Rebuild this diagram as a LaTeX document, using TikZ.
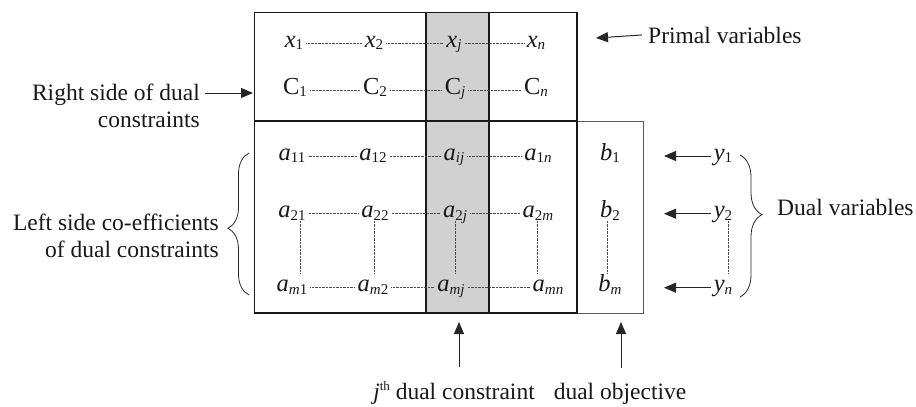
\documentclass[tikz,border=0pt]{standalone}
\usepackage{fontspec}
\setmainfont{Liberation Serif}
\usetikzlibrary{arrows.meta,decorations.pathreplacing,calc}
\newcommand\subs[1]{\raisebox{-2.5pt}{\fontsize{15}{15}\selectfont #1}}
\newcommand\vr[2]{\textit{#1}\subs{#2}}
\begin{document}
\begin{tikzpicture}[x=1pt,y=-1pt,
  lab/.style={font=\fontsize{23.5}{27}\selectfont, text=black!90, inner sep=0pt},
  entry/.style={font=\fontsize{24.5}{27}\selectfont, text=black!90, anchor=base, inner sep=3pt, text height=14pt, text depth=6pt},
  dotline/.style={draw=black!70, line width=0.6pt, dash pattern=on 0.7pt off 0.7pt},
  boxline/.style={draw=black!90, line width=1.3pt},
  thinbox/.style={draw=black!65, line width=0.9pt},
  arr/.style={draw=black!85, line width=1pt, -{Triangle[length=12pt,width=10pt]}},
  bracestyle/.style={draw=black!85, line width=0.8pt, decorate}]
\useasboundingbox (0,0) rectangle (916,407);

% shaded column and boxes
\fill[black!18] (426,12.7) rectangle (489,313);
\draw[thinbox] (577,121) -- (643,121) -- (643,313) -- (577,313);
\draw[boxline] (254.7,12.7) rectangle (577,121);
\draw[boxline] (254.7,121) rectangle (577,313);
\draw[boxline] (426,12.7) -- (426,313);
\draw[boxline] (489,12.7) -- (489,313);

% row x
\node[entry] (x1) at (294,47) {\vr{x}{1}};
\node[entry] (x2) at (374,47) {\vr{x}{2}};
\node[entry] (xj) at (454,47) {\vr{x}{\textit{j}}};
\node[entry] (xn) at (536,47) {\vr{x}{\textit{n}}};
% row C
\node[entry] (c1) at (295,94) {C\subs{1}};
\node[entry] (c2) at (375,94) {C\subs{2}};
\node[entry] (cj) at (455,94) {C\subs{\textit{j}}};
\node[entry] (cn) at (536,94) {C\subs{\textit{n}}};
% row a1
\node[entry] (a11) at (292,160) {\vr{a}{11}};
\node[entry] (a12) at (373,160) {\vr{a}{12}};
\node[entry] (a1j) at (454,160) {\vr{a}{\textit{ij}}};
\node[entry] (a1n) at (538,160) {\vr{a}{1\textit{n}}};
\node[entry] (b1) at (610,160) {\vr{b}{1}};
% row a2
\node[entry] (a21) at (292,217.7) {\vr{a}{21}};
\node[entry] (a22) at (375,217.7) {\vr{a}{22}};
\node[entry] (a2j) at (455,217.7) {\vr{a}{2\textit{j}}};
\node[entry] (a2m) at (538,217.7) {\vr{a}{2\textit{m}}};
\node[entry] (b2) at (610,217.7) {\vr{b}{2}};
% row am
\node[entry] (am1) at (292,291.7) {\vr{a}{\textit{m}1}};
\node[entry] (am2) at (373,291.7) {\vr{a}{\textit{m}2}};
\node[entry] (amj) at (451,291.7) {\vr{a}{\textit{mj}}};
\node[entry] (amn) at (548,291.7) {\vr{a}{\textit{mn}}};
\node[entry] (bm) at (610,291.7) {\vr{b}{\textit{m}}};
% y column
\node[entry] (y1) at (723,160) {\vr{y}{1}};
\node[entry] (y2) at (723,217.7) {\vr{y}{2}};
\node[entry] (yn) at (723,291.7) {\vr{y}{\textit{n}}};

% horizontal dotted
\draw[dotline] (x1) -- (x2);
\draw[dotline] (x2) -- (xj);
\draw[dotline] (xj) -- (xn);
\draw[dotline] (c1) -- (c2);
\draw[dotline] (c2) -- (cj);
\draw[dotline] (cj) -- (cn);
\draw[dotline] (a11) -- (a12);
\draw[dotline] (a12) -- (a1j);
\draw[dotline] (a1j) -- (a1n);
\draw[dotline] (a21) -- (a22);
\draw[dotline] (a22) -- (a2j);
\draw[dotline] (a2j) -- (a2m);
\draw[dotline] (am1) -- (am2);
\draw[dotline] (am2) -- (amj);
\draw[dotline] (amj) -- (amn);
% vertical dotted
\draw[dotline] ([xshift=8pt,yshift=-3pt]a21.base) -- ([xshift=8pt,yshift=19pt]am1.base);
\draw[dotline] ([xshift=-1pt,yshift=-3pt]a22.base) -- ([xshift=1pt,yshift=19pt]am2.base);
\draw[dotline] ([xshift=0pt,yshift=-3pt]a2j.base) -- ([xshift=4pt,yshift=19pt]amj.base);
\draw[dotline] ([xshift=-1pt,yshift=-3pt]a2m.base) -- ([xshift=-11pt,yshift=19pt]amn.base);
\draw[dotline] ([xshift=-3pt,yshift=-3pt]b2.base) -- ([xshift=-3pt,yshift=19pt]bm.base);
\draw[dotline] ([xshift=5pt,yshift=-3pt]y2.base) -- ([xshift=5pt,yshift=19pt]yn.base);

% y arrows
\coordinate (t1) at (664,156);
\coordinate (t2) at (664,213.7);
\coordinate (t3) at (664,287.7);
\draw[arr] (y1.west) -- (t1);
\draw[arr] (y2.west) -- (t2);
\draw[arr] (yn.west) -- (t3);

% primal variables
\node[lab, anchor=base west] (prim) at (648,43) {Primal variables};
\coordinate (ptip) at (596,38);
\draw[arr] ([xshift=-6pt]prim.west) -- (ptip);

% right side of dual constraints
\node[lab, align=right, anchor=north east] (rside) at (200,84) {Right side of dual\\constraints};
\coordinate (rtip) at (253,93);
\draw[arr] ($(rside.east |- rtip)+(5,0)$) -- (rtip);

% left side label and brace
\node[lab, align=right, anchor=north east] (lside) at (219,214) {Left side co-efficients\\of dual constraints};
\coordinate (lb1) at (249,295);
\coordinate (lb2) at (249,153);
\draw[bracestyle, decoration={brace, amplitude=21pt, aspect=0.47}] (lb1) -- (lb2);

% dual variables brace
\coordinate (rb1) at (740,155);
\coordinate (rb2) at (740,297);
\draw[bracestyle, decoration={brace, amplitude=22pt, aspect=0.42}] (rb1) -- (rb2);
\node[lab, anchor=base west] (dvar) at (777,215) {Dual variables};

% bottom labels
\node[lab, anchor=base east] (jlab) at (535,399) {\textit{j}\raisebox{9pt}{\fontsize{13}{13}\selectfont th} dual constraint};
\node[lab, anchor=base] (dobj) at (620,399) {dual objective};
\coordinate (jtip) at (459,322);
\coordinate (otip) at (621,322);
\draw[arr] (jlab.north -| jtip) ++(0,-14) -- (jtip);
\draw[arr] (dobj.north -| otip) ++(0,-14) -- (otip);
\end{tikzpicture}
\end{document}
